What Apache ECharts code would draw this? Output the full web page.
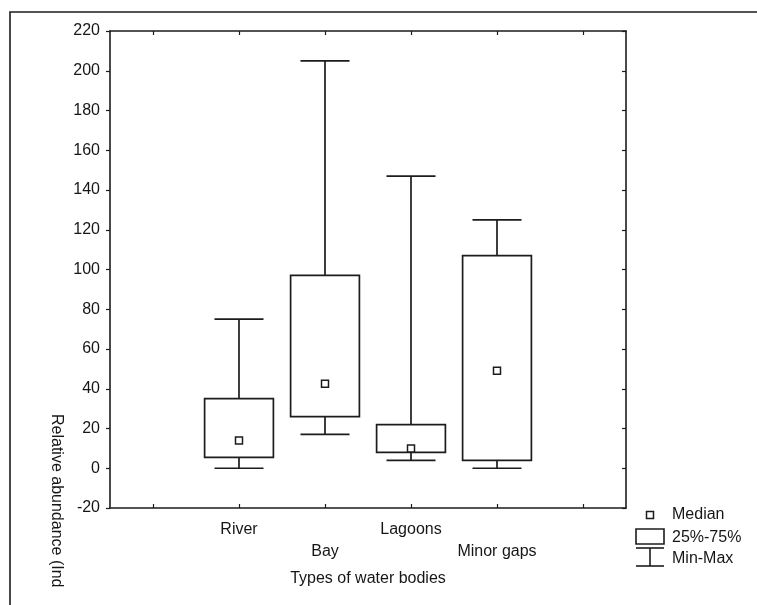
<!DOCTYPE html>
<html>
<head>
<meta charset="utf-8">
<script src="https://cdn.jsdelivr.net/npm/echarts@6/dist/echarts.min.js"></script>
<style>
  html, body { margin: 0; padding: 0; background: #fff; }
  #chart { width: 757px; height: 605px; }
</style>
</head>
<body>
<div id="chart"></div>
<script>
// Water body types (blank slots pad the axis on both sides)
const categories = ['', 'River', 'Bay', 'Lagoons', 'Minor gaps', ''];
const groupIndex = [1, 2, 3, 4];
// Box statistics per water body type
const minVals = [0, 17, 4, 0];
const q1Vals = [5.5, 26, 8, 4];
const medianVals = [14, 42.5, 10, 49];
const q3Vals = [35, 97, 22, 107];
const maxVals = [75, 205, 147, 125];
// Value axis ticks
const yMin = -20, yMax = 220, yStep = 20;

const FONT = 'Liberation Sans, Arial, sans-serif';
const FS = 16;
const INK = '#1c1c1c';
const TEXT = '#161616';

const boxData = groupIndex.map((c, i) => [c, minVals[i], q1Vals[i], medianVals[i], q3Vals[i], maxVals[i]]);

function renderBox(params, api) {
  const x = api.value(0);
  const slot = api.size([1, 0])[0];
  const bw = slot * 0.8;
  const cw = slot * 0.57;
  const pMin = api.coord([x, api.value(1)]);
  const pQ1 = api.coord([x, api.value(2)]);
  const pMed = api.coord([x, api.value(3)]);
  const pQ3 = api.coord([x, api.value(4)]);
  const pMax = api.coord([x, api.value(5)]);
  const cx = pMin[0];
  const st = { stroke: INK, lineWidth: 1.7, fill: null };
  const m = 7;
  return {
    type: 'group',
    children: [
      { type: 'line', shape: { x1: cx, y1: pMax[1], x2: cx, y2: pQ3[1] }, style: st },
      { type: 'line', shape: { x1: cx, y1: pQ1[1], x2: cx, y2: pMin[1] }, style: st },
      { type: 'line', shape: { x1: cx - cw / 2, y1: pMax[1], x2: cx + cw / 2, y2: pMax[1] }, style: st },
      { type: 'line', shape: { x1: cx - cw / 2, y1: pMin[1], x2: cx + cw / 2, y2: pMin[1] }, style: st },
      { type: 'rect', shape: { x: cx - bw / 2, y: pQ3[1], width: bw, height: pQ1[1] - pQ3[1] }, style: { stroke: INK, lineWidth: 1.7, fill: 'rgba(0,0,0,0)' } },
      { type: 'rect', shape: { x: cx - m / 2, y: pMed[1] - m / 2, width: m, height: m }, style: { stroke: INK, lineWidth: 1.5, fill: '#fff' } }
    ]
  };
}

const chart = echarts.init(document.getElementById('chart'), null, { renderer: 'canvas' });

const axisLine = { show: true, onZero: false, lineStyle: { color: INK, width: 1.6 } };
const legendX = 650;

chart.setOption({
  animation: false,
  backgroundColor: '#fff',
  grid: { left: 110, top: 31, width: 516, height: 477, containLabel: false },
  xAxis: [
    {
      type: 'category', data: categories, position: 'bottom',
      boundaryGap: true,
      axisLine: axisLine,
      axisTick: { show: true, inside: true, length: 4, alignWithLabel: true, interval: 0, lineStyle: { color: INK, width: 1.2 } },
      axisLabel: {
        interval: 0, margin: 11, color: TEXT, fontFamily: FONT, fontSize: FS, lineHeight: 22,
        formatter: (v, i) => (i === 2 || i === 4) ? '\n' + v : v
      },
      splitLine: { show: false },
      name: 'Types of water bodies', nameLocation: 'middle', nameGap: 63,
      nameTextStyle: { color: TEXT, fontFamily: FONT, fontSize: FS }
    },
    {
      type: 'category', data: categories, position: 'top',
      boundaryGap: true,
      axisLine: axisLine,
      axisTick: { show: true, inside: true, length: 4, alignWithLabel: true, interval: 0, lineStyle: { color: INK, width: 1.2 } },
      axisLabel: { show: false },
      splitLine: { show: false }
    }
  ],
  yAxis: [
    {
      type: 'value', min: yMin, max: yMax, interval: yStep, position: 'left',
      axisLine: axisLine,
      axisTick: { show: true, inside: false, length: 4, lineStyle: { color: INK, width: 1.2 } },
      axisLabel: { margin: 10, color: TEXT, fontFamily: FONT, fontSize: FS },
      splitLine: { show: false }
    },
    {
      type: 'value', min: yMin, max: yMax, interval: yStep, position: 'right',
      axisLine: axisLine,
      axisTick: { show: true, inside: true, length: 4, lineStyle: { color: INK, width: 1.2 } },
      axisLabel: { show: false },
      splitLine: { show: false }
    }
  ],
  series: [
    {
      type: 'custom',
      xAxisIndex: 0, yAxisIndex: 0,
      data: boxData,
      renderItem: renderBox,
      encode: { x: 0, y: [1, 2, 3, 4, 5] },
      clip: false
    }
  ],
  graphic: [
    // outer frame
    { type: 'rect', shape: { x: 10, y: 12, width: 900, height: 800 }, style: { stroke: INK, lineWidth: 1.6, fill: null }, silent: true },
    // value axis title
    {
      type: 'text', x: 56, y: 414, rotation: -Math.PI / 2,
      style: { text: 'Relative abundance (Ind', fill: TEXT, font: FS + 'px ' + FONT, textAlign: 'left', textVerticalAlign: 'middle' }
    },
    // legend: median
    { type: 'rect', shape: { x: legendX - 3.5, y: 515 - 3.5, width: 7, height: 7 }, style: { stroke: INK, lineWidth: 1.5, fill: '#fff' } },
    { type: 'text', x: 672, y: 515, style: { text: 'Median', fill: TEXT, font: FS + 'px ' + FONT, textVerticalAlign: 'middle' } },
    // legend: box
    { type: 'rect', shape: { x: 636, y: 529, width: 28, height: 15 }, style: { stroke: INK, lineWidth: 1.6, fill: null } },
    { type: 'text', x: 672, y: 538, style: { text: '25%-75%', fill: TEXT, font: FS + 'px ' + FONT, textVerticalAlign: 'middle' } },
    // legend: whisker
    { type: 'line', shape: { x1: 636, y1: 548, x2: 664, y2: 548 }, style: { stroke: INK, lineWidth: 1.6 } },
    { type: 'line', shape: { x1: legendX, y1: 548, x2: legendX, y2: 566 }, style: { stroke: INK, lineWidth: 1.6 } },
    { type: 'line', shape: { x1: 636, y1: 566, x2: 664, y2: 566 }, style: { stroke: INK, lineWidth: 1.6 } },
    { type: 'text', x: 672, y: 559, style: { text: 'Min-Max', fill: TEXT, font: FS + 'px ' + FONT, textVerticalAlign: 'middle' } }
  ]
});
</script>
</body>
</html>
